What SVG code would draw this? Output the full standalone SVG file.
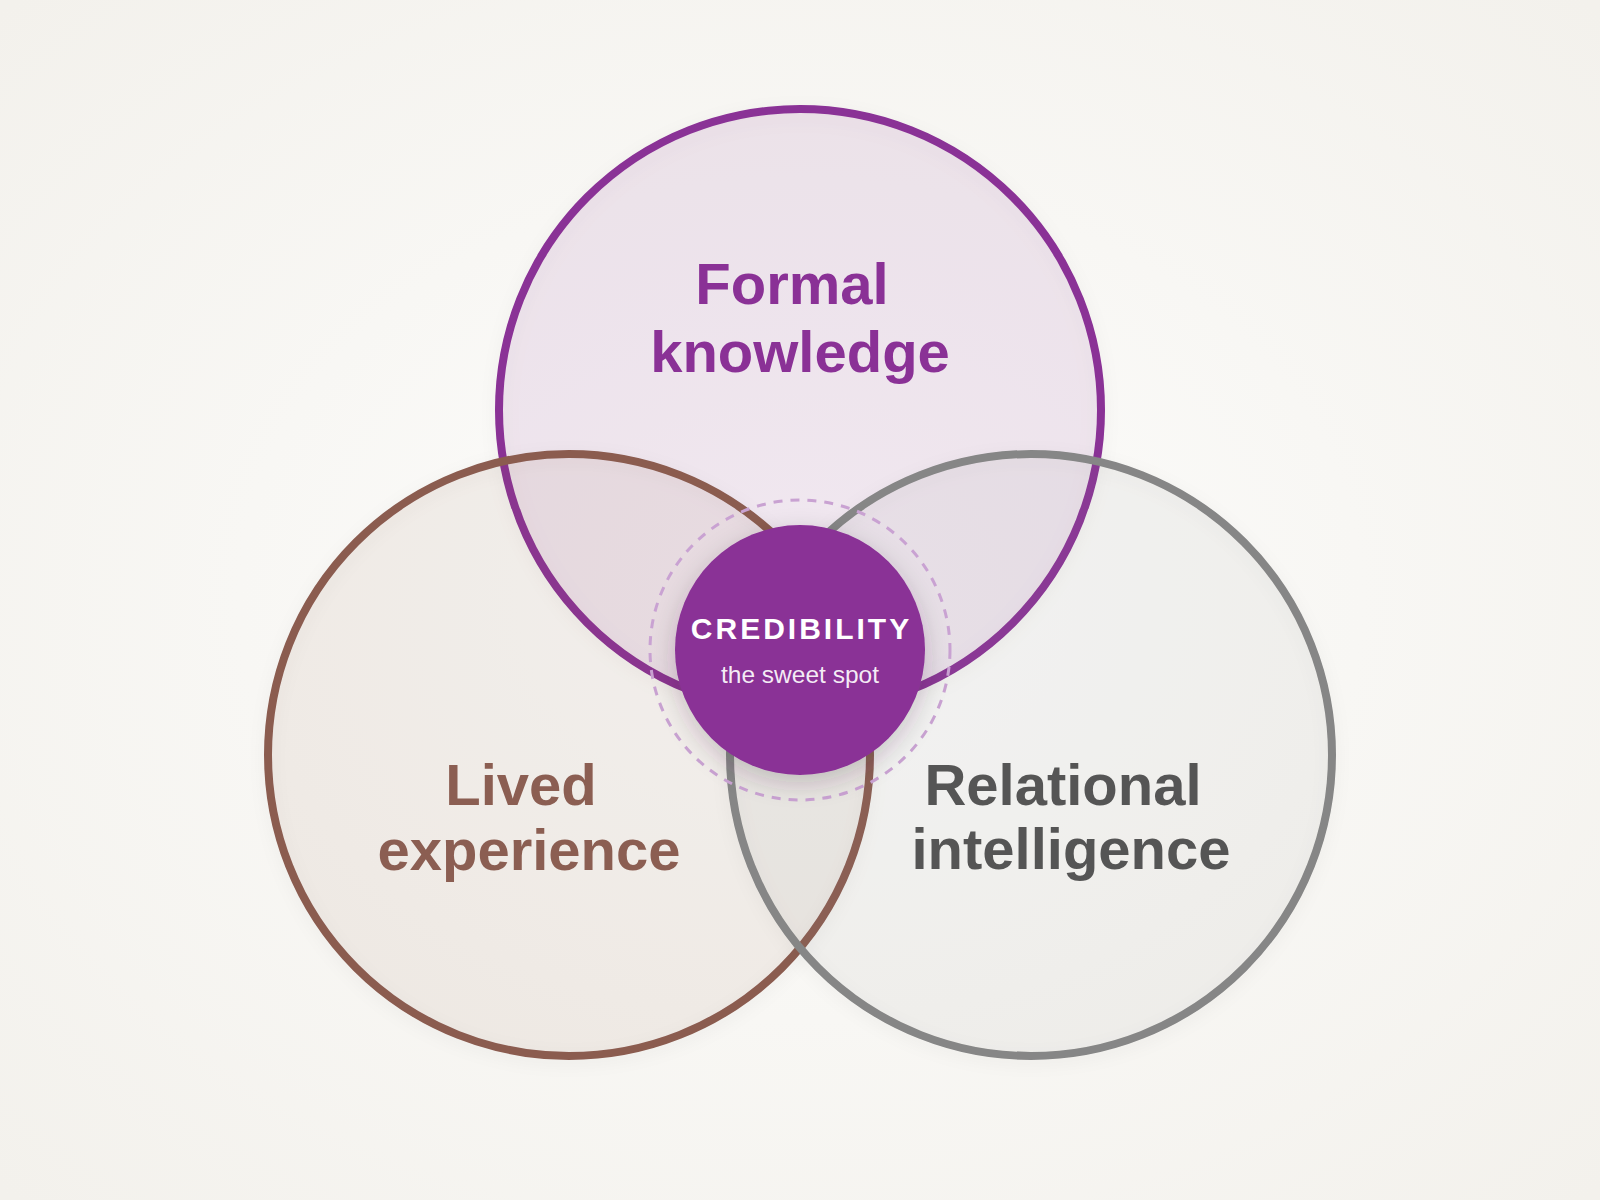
<svg xmlns="http://www.w3.org/2000/svg" width="1600" height="1200" viewBox="0 0 1600 1200">
  <defs>
    <radialGradient id="bg" cx="50%" cy="50%" r="70%">
      <stop offset="0" stop-color="#FDFDFC"/>
      <stop offset="1" stop-color="#F3F1EC"/>
    </radialGradient>
    <filter id="soft" x="-20%" y="-20%" width="140%" height="140%">
      <feDropShadow dx="0" dy="4" stdDeviation="8" flood-color="#000" flood-opacity="0.05"/>
    </filter>
    <filter id="glow" x="-40%" y="-40%" width="180%" height="180%">
      <feDropShadow dx="0" dy="8" stdDeviation="12" flood-color="#3a2a3a" flood-opacity="0.22"/>
    </filter>
    <style>
      .ring { stroke-width: 8; }
      .label { font-family: "Liberation Sans", Arial, Helvetica, sans-serif; font-weight: bold; font-size: 58px; text-anchor: middle; }
      .title { font-family: "Liberation Sans", Arial, Helvetica, sans-serif; font-weight: bold; font-size: 30px; letter-spacing: 3px; fill: #FFFFFF; text-anchor: middle; }
      .sub { font-family: "Liberation Sans", Arial, Helvetica, sans-serif; font-size: 24.5px; fill: #FFFFFF; fill-opacity: 0.92; text-anchor: middle; }
    </style>
  </defs>
  <rect x="0" y="0" width="1600" height="1200" fill="url(#bg)"/>

  <g id="node-formal">
    <circle cx="800" cy="410" r="301" fill="#8A3196" fill-opacity="0.1" stroke="#8A3196" class="ring" filter="url(#soft)"/>
  </g>
  <g id="node-lived">
    <circle cx="569" cy="755" r="301" fill="#8B5C50" fill-opacity="0.08" stroke="#8B5C50" class="ring" filter="url(#soft)"/>
  </g>
  <g id="node-relational">
    <circle cx="1031" cy="755" r="301" fill="#888888" fill-opacity="0.08" stroke="#868686" class="ring" filter="url(#soft)"/>
  </g>

  <g id="labels">
    <text class="label" x="792" y="304" fill="#8A3196">Formal</text>
    <text class="label" x="800" y="372" fill="#8A3196">knowledge</text>
    <text class="label" x="521" y="805" fill="#8B5E52">Lived</text>
    <text class="label" x="529" y="870" fill="#8B5E52">experience</text>
    <text class="label" x="1063" y="805" fill="#555555">Relational</text>
    <text class="label" x="1071" y="869" fill="#555555">intelligence</text>
  </g>

  <g id="connectors"></g>

  <g id="node-credibility">
    <circle cx="800" cy="650" r="150" fill="none" stroke="#C9A2D2" stroke-width="3" stroke-dasharray="9 8"/>
    <circle cx="800" cy="650" r="125" fill="#8A3196" filter="url(#glow)"/>
    <text class="title" x="801.5" y="639">CREDIBILITY</text>
    <text class="sub" x="800" y="683">the sweet spot</text>
  </g>
</svg>
